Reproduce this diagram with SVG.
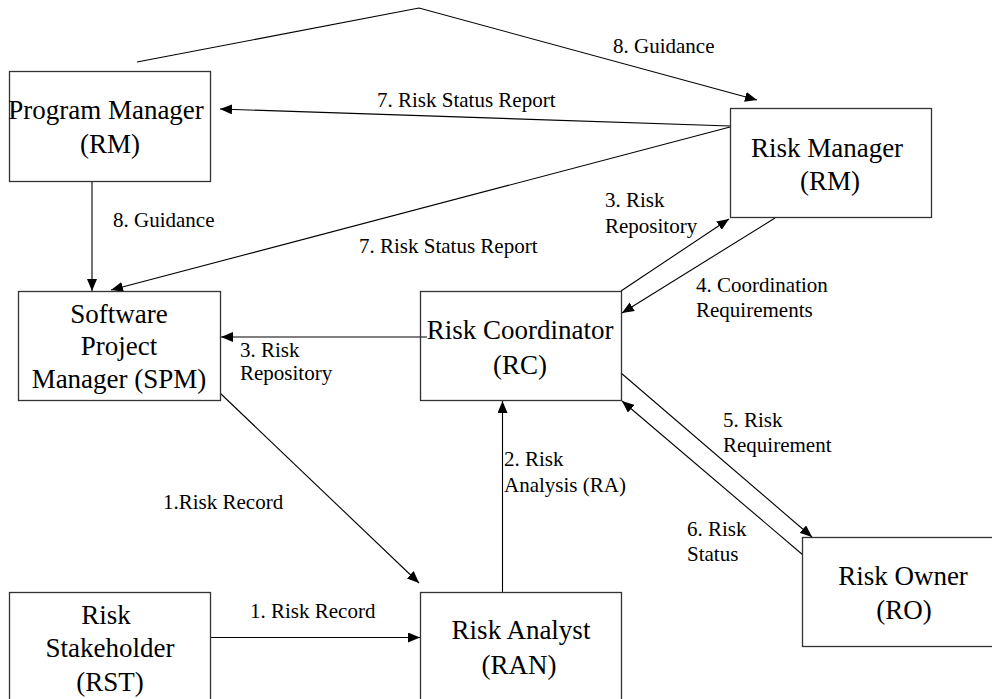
<svg xmlns="http://www.w3.org/2000/svg" width="992" height="699" viewBox="0 0 992 699">
  <style>
    .box { fill: #ffffff; stroke: #333333; stroke-width: 1.3; }
    .node { font-family: "Liberation Serif", "Times New Roman", serif; font-size: 27px; fill: #000; text-anchor: middle; }
    .lbl { font-family: "Liberation Serif", "Times New Roman", serif; font-size: 21px; fill: #000; }
    .edge { fill: none; stroke: #000; stroke-width: 1.1; marker-end: url(#arrow); }
  </style>
  <defs>
    <marker id="arrow" markerUnits="userSpaceOnUse" markerWidth="12" markerHeight="10" refX="12" refY="5" orient="auto">
      <path d="M0,0 L12,5 L0,10 z" fill="#000"/>
    </marker>
  </defs>
  <rect width="992" height="699" fill="#ffffff"/>

  <g id="connectors">
    <polyline class="edge" points="137,62 419,8 757,100"/>
    <line class="edge" x1="730" y1="126" x2="220" y2="109"/>
    <line class="edge" x1="730" y1="127" x2="111" y2="290"/>
    <line class="edge" x1="92" y1="182" x2="92" y2="291"/>
    <line class="edge" x1="427" y1="337" x2="221" y2="337"/>
    <line class="edge" x1="621" y1="291" x2="729" y2="219"/>
    <line class="edge" x1="775" y1="218" x2="622" y2="313"/>
    <line class="edge" x1="621" y1="373" x2="812" y2="537"/>
    <line class="edge" x1="803" y1="555" x2="622" y2="401"/>
    <line class="edge" x1="502.5" y1="592" x2="502.5" y2="401"/>
    <line class="edge" x1="220" y1="393" x2="419" y2="583"/>
    <line class="edge" x1="211" y1="637.5" x2="420" y2="637.5"/>

    <text class="lbl" x="613" y="53">8. Guidance</text>
    <text class="lbl" x="377" y="107">7. Risk Status Report</text>
    <text class="lbl" x="113" y="227">8. Guidance</text>
    <text class="lbl" x="359" y="253">7. Risk Status Report</text>
    <text class="lbl" x="605" y="207">3. Risk</text>
    <text class="lbl" x="605" y="233">Repository</text>
    <text class="lbl" x="696" y="292">4. Coordination</text>
    <text class="lbl" x="696" y="317">Requirements</text>
    <text class="lbl" x="240" y="357">3. Risk</text>
    <text class="lbl" x="240" y="380">Repository</text>
    <text class="lbl" x="723" y="427">5. Risk</text>
    <text class="lbl" x="723" y="452">Requirement</text>
    <text class="lbl" x="504" y="466">2. Risk</text>
    <text class="lbl" x="504" y="492">Analysis (RA)</text>
    <text class="lbl" x="163" y="509">1.Risk Record</text>
    <text class="lbl" x="687" y="536">6. Risk</text>
    <text class="lbl" x="687" y="561">Status</text>
    <text class="lbl" x="250" y="618">1. Risk Record</text>
  </g>

  <g id="program-manager">
    <rect class="box" x="9.5" y="71.5" width="201" height="110"/>
    <text class="node" x="106" y="119">Program Manager</text>
    <text class="node" x="110" y="153">(RM)</text>
  </g>

  <g id="risk-manager">
    <rect class="box" x="730.5" y="108.5" width="201" height="109"/>
    <text class="node" x="827" y="157">Risk Manager</text>
    <text class="node" x="830" y="190">(RM)</text>
  </g>

  <g id="software-project-manager">
    <rect class="box" x="18.5" y="291.5" width="202" height="109"/>
    <text class="node" x="119" y="323">Software</text>
    <text class="node" x="119" y="355">Project</text>
    <text class="node" x="119" y="388">Manager (SPM)</text>
  </g>

  <g id="risk-coordinator">
    <rect class="box" x="420.5" y="291.5" width="201" height="109" fill-opacity="0"/>
    <text class="node" x="520" y="339">Risk Coordinator</text>
    <text class="node" x="520" y="374">(RC)</text>
  </g>

  <g id="risk-owner">
    <rect class="box" x="802.5" y="537.5" width="201" height="109"/>
    <text class="node" x="903" y="585">Risk Owner</text>
    <text class="node" x="904" y="619">(RO)</text>
  </g>

  <g id="risk-analyst">
    <rect class="box" x="420.5" y="592.5" width="201" height="110"/>
    <text class="node" x="521" y="639">Risk Analyst</text>
    <text class="node" x="519" y="674">(RAN)</text>
  </g>

  <g id="risk-stakeholder">
    <rect class="box" x="9.5" y="592.5" width="201" height="110"/>
    <text class="node" x="106" y="624">Risk</text>
    <text class="node" x="110" y="657">Stakeholder</text>
    <text class="node" x="110" y="691">(RST)</text>
  </g>
</svg>
